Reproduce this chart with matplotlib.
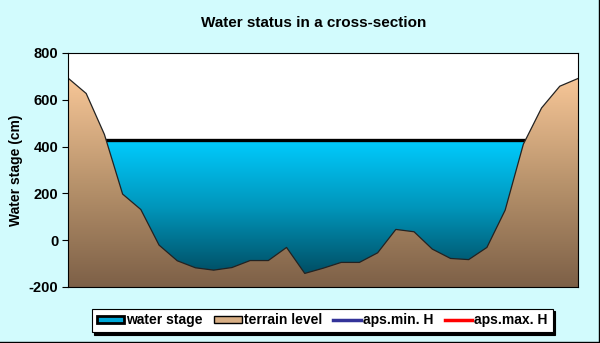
import numpy as np
import matplotlib.pyplot as plt
from matplotlib.colors import LinearSegmentedColormap
from matplotlib.patches import Patch
from matplotlib.lines import Line2D

# terrain profile across the section (cm)
terrain = [693, 627, 452, 197, 131, -21, -88, -118, -128, -117, -87, -87, -31, -142, -120,
           -95, -95, -54, 46, 36, -38, -78, -83, -31, 128, 410, 565, 658, 691]
water_stage = 428
y_min, y_max = -200, 800
yticks = [-200, 0, 200, 400, 600, 800]

plt.rcParams["font.family"] = ["Liberation Sans", "DejaVu Sans"]

bg = "#d2fbfd"
water_cmap = LinearSegmentedColormap.from_list("water", ["#004d63", "#0096bb", "#00ccff"])
terrain_cmap = LinearSegmentedColormap.from_list("terrain", ["#7d6047", "#b8936c", "#f7c697"])

xs = np.arange(len(terrain))
water = np.full(len(terrain), water_stage)

fig = plt.figure(figsize=(6, 3.43), dpi=100, facecolor=bg)
ax = fig.add_axes([0.1133, 0.1633, 0.85, 0.6822])
ax.set_facecolor("white")
ax.set_xlim(xs[0], xs[-1])
ax.set_ylim(y_min, y_max)

# water area with gradient
grad = np.linspace(0, 1, 256).reshape(-1, 1)
wpoly = ax.fill_between(xs, y_min, water, facecolor="none", edgecolor="none")
im = ax.imshow(grad, cmap=water_cmap, aspect="auto", origin="lower",
               extent=[xs[0], xs[-1], -150, water_stage], zorder=1)
im.set_clip_path(wpoly.get_paths()[0], transform=ax.transData)
im2 = ax.imshow(np.zeros((2, 1)), cmap=water_cmap, aspect="auto", origin="lower",
                extent=[xs[0], xs[-1], y_min, -150], zorder=1)
im2.set_clip_path(wpoly.get_paths()[0], transform=ax.transData)
ax.plot(xs, water, color="black", lw=2.4, zorder=2, solid_capstyle="butt")

# terrain area with gradient
tpoly = ax.fill_between(xs, y_min, terrain, facecolor="none", edgecolor="none", zorder=3)
im3 = ax.imshow(grad, cmap=terrain_cmap, aspect="auto", origin="lower",
                extent=[xs[0], xs[-1], y_min, max(terrain)], zorder=3)
im3.set_clip_path(tpoly.get_paths()[0], transform=ax.transData)
ax.plot(xs, terrain, color="#222222", lw=0.9, zorder=4)

ax.set_yticks(yticks)
ax.set_yticklabels([str(v) for v in yticks], fontweight="bold", fontsize=10.5)
ax.set_xticks([])
ax.tick_params(axis="y", length=4, width=0.8, pad=3)
for s in ax.spines.values():
    s.set_linewidth(0.8)
    s.set_zorder(5)

ax.set_ylabel("Water stage (cm)", fontweight="bold", fontsize=10)
ax.yaxis.set_label_coords(-0.088, 0.5)
fig.text(0.522, 0.933, "Water status in a cross-section", ha="center", va="center",
         fontweight="bold", fontsize=11)

handles = [
    Patch(facecolor="#00a8d8", edgecolor="black", lw=2),
    Patch(facecolor="#d7ae84", edgecolor="black", lw=1),
    Line2D([], [], color="#333399", lw=2.5),
    Line2D([], [], color="#ff0000", lw=2.5),
]
labels = ["water stage", "terrain level", "aps.min. H", "aps.max. H"]
leg = fig.legend(handles, labels, loc="center", bbox_to_anchor=(0.537, 0.066), ncol=4,
                 frameon=True, fancybox=False, shadow={"color": "black", "alpha": 1, "ox": 2, "oy": -2},
                 handlelength=2.0, handleheight=0.4, handletextpad=0.15, columnspacing=0.8,
                 borderpad=0.35, borderaxespad=0, prop={"weight": "bold", "size": 10})
leg.get_frame().set_edgecolor("black")
leg.get_frame().set_linewidth(0.8)

# outer frame edges (right / bottom)
fig.add_artist(Line2D([0.9985, 0.9985], [0, 1], color="black", lw=1, transform=fig.transFigure))
fig.add_artist(Line2D([0, 1], [0.0015, 0.0015], color="black", lw=1, transform=fig.transFigure))

fig.savefig("out.png", dpi=100, facecolor=bg)
